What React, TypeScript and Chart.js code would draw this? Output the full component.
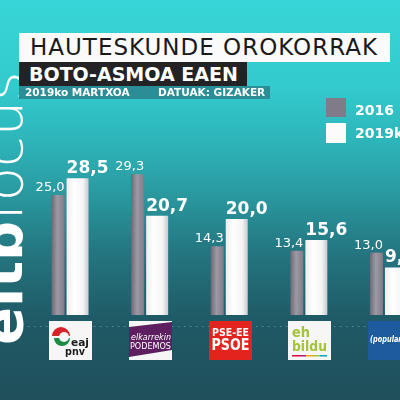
import React, { useEffect, useRef } from "react";
import { Chart, registerables } from "chart.js";

Chart.register(...registerables);

// ---- data ----
const categories = ["EAJ-PNV", "Elkarrekin Podemos", "PSE-EE PSOE", "EH Bildu", "PP"];
const seriesLabels = ["2016", "2019ko"];
const values2016 = [25.0, 29.3, 14.3, 13.4, 13.0];
const values2019 = [28.5, 20.7, 20.0, 15.6, 9.9];
const titleText = "HAUTESKUNDE OROKORRAK";
const subtitleText = "BOTO-ASMOA EAEN";
const dateText = "2019ko MARTXOA";
const sourceText = "DATUAK: GIZAKER";

const FONT = "'DejaVu Sans', sans-serif";
const CAT_PCT = 0.49;
const BAR_PCT = [0.667, 1.128];

const fmt = (v: number) => v.toFixed(1).replace(".", ",");

function barGeom(chart: any, dsIndex: number, index: number) {
  const xs = chart.scales.x;
  const c = xs.getPixelForValue(index);
  const cat = xs.width / categories.length;
  const chunk = (cat * CAT_PCT) / 2;
  const center = dsIndex === 0 ? c - chunk / 2 : c + chunk / 2;
  const w = chunk * BAR_PCT[dsIndex];
  return { left: center - w / 2, right: center + w / 2 };
}

const fill = (dsIndex: number) => (ctx: any) => {
  const chart = ctx.chart;
  const fallback = dsIndex === 0 ? "#8a8793" : "#f7f7f7";
  if (!chart.chartArea || !chart.scales || !chart.scales.x || ctx.type !== "data") return fallback;
  const { left, right } = barGeom(chart, dsIndex, ctx.dataIndex);
  const g = chart.ctx.createLinearGradient(left, 0, right, 0);
  if (dsIndex === 0) {
    g.addColorStop(0, "#6c6874");
    g.addColorStop(0.45, "#9d99a5");
    g.addColorStop(1, "#7e7a86");
  } else {
    g.addColorStop(0, "#ededee");
    g.addColorStop(0.35, "#ffffff");
    g.addColorStop(0.75, "#f4f4f5");
    g.addColorStop(1, "#c9c9cd");
  }
  return g;
};

function drawLogo(c: CanvasRenderingContext2D, i: number, x0: number, y0: number, w: number, h: number) {
  c.save();
  c.textAlign = "left";
  c.textBaseline = "alphabetic";
  if (i === 0) {
    c.fillStyle = "#f6f6f6";
    c.fillRect(x0, y0, w, h);
    const cx = x0 + 12, cy = y0 + 15;
    c.fillStyle = "#d8232a";
    c.beginPath(); c.arc(cx, cy, 9, Math.PI, 2 * Math.PI); c.fill();
    c.fillStyle = "#1e8b45";
    c.beginPath(); c.arc(cx + 1, cy + 2, 8, 0, Math.PI); c.fill();
    c.fillStyle = "#f6f6f6";
    c.beginPath(); c.arc(cx + 3, cy + 1, 5, 0, 2 * Math.PI); c.fill();
    c.fillStyle = "#1c1c1c";
    c.font = `bold 11px ${FONT}`;
    c.fillText("eaj", x0 + 22, y0 + 25, 18);
    c.fillText("pnv", x0 + 16, y0 + 34, 20);
  } else if (i === 1) {
    c.fillStyle = "#f6f6f6";
    c.fillRect(x0, y0, w, h);
    c.fillStyle = "#5d1f5f";
    c.beginPath();
    c.moveTo(x0, y0 + 6); c.lineTo(x0 + w, y0 + 1); c.lineTo(x0 + w, y0 + 29); c.lineTo(x0, y0 + 36);
    c.closePath(); c.fill();
    c.fillStyle = "#ffffff";
    c.font = `italic 9px ${FONT}`;
    c.fillText("elkarrekin", x0 + 2, y0 + 19, w - 3);
    c.font = `9px ${FONT}`;
    c.fillText("PODEMOS", x0 + 1, y0 + 28, w - 2);
  } else if (i === 2) {
    c.fillStyle = "#e2231e";
    c.fillRect(x0, y0, w, h);
    c.fillStyle = "#ffffff";
    c.textAlign = "center";
    c.font = `bold 11px ${FONT}`;
    c.fillText("PSE-EE", x0 + w / 2, y0 + 15, 37);
    c.font = `bold 16px ${FONT}`;
    c.fillText("PSOE", x0 + w / 2, y0 + 29, 38);
  } else if (i === 3) {
    c.fillStyle = "#f6f6f6";
    c.fillRect(x0, y0, w, h);
    c.fillStyle = "#a3c43a";
    c.font = `bold 14px ${FONT}`;
    c.fillText("eh", x0 + 4, y0 + 16, 18);
    c.fillText("bildu", x0 + 4, y0 + 30, 35);
    const cols = ["#e4003b", "#b0197e", "#f5a800", "#a3c43a", "#00a4c7"];
    cols.forEach((col, k) => {
      c.fillStyle = col;
      c.fillRect(x0 + 4 + k * 7, y0 + 34, 7, 1.5);
    });
  } else {
    c.fillStyle = "#1d5b9e";
    c.fillRect(x0, y0, w, h);
    c.fillStyle = "#ffffff";
    c.font = `italic bold 8px ${FONT}`;
    c.fillText("(populares", x0 + 2, y0 + 21, 40);
  }
  c.restore();
}

const decorPlugin = {
  id: "decor",
  beforeDatasetsDraw(chart: any) {
    const c = chart.ctx;
    c.save();
    c.strokeStyle = "rgba(255,255,255,0.28)";
    c.lineWidth = 1;
    c.setLineDash([1.5, 4.5]);
    c.beginPath();
    c.moveTo(0, 326.5);
    c.lineTo(chart.width, 326.5);
    c.stroke();
    c.restore();
  },
  afterDatasetsDraw(chart: any) {
    const c = chart.ctx;
    c.save();
    chart.data.datasets.forEach((ds: any, di: number) => {
      const meta = chart.getDatasetMeta(di);
      meta.data.forEach((el: any, i: number) => {
        const v = ds.data[i];
        const half = el.width / 2;
        c.fillStyle = "#ffffff";
        c.textBaseline = "alphabetic";
        if (di === 0) {
          c.font = `13px ${FONT}`;
          c.textAlign = "right";
          c.fillText(fmt(v), el.x + half, el.y - 4);
        } else {
          c.font = `bold 17px ${FONT}`;
          c.textAlign = "left";
          c.fillText(fmt(v), el.x - half, el.y - 5);
        }
      });
    });
    const xs = chart.scales.x;
    categories.forEach((_, i) => {
      const cx = xs.getPixelForValue(i) + 3;
      drawLogo(c, i, Math.round(cx - 21.5), 321, 43, 39);
    });
    c.restore();
  },
};

export default function App() {
  const ref = useRef<HTMLCanvasElement | null>(null);

  useEffect(() => {
    if (!ref.current) return;
    const chart = new Chart(ref.current, {
      type: "bar",
      data: {
        labels: categories,
        datasets: [
          {
            label: seriesLabels[0],
            data: values2016,
            backgroundColor: fill(0),
            barPercentage: BAR_PCT[0],
            categoryPercentage: CAT_PCT,
            borderWidth: 0,
          },
          {
            label: seriesLabels[1],
            data: values2019,
            backgroundColor: fill(1),
            barPercentage: BAR_PCT[1],
            categoryPercentage: CAT_PCT,
            borderWidth: 0,
          },
        ],
      },
      options: {
        responsive: false,
        maintainAspectRatio: false,
        animation: false,
        devicePixelRatio: 1,
        layout: { padding: { left: 0, right: 2, top: 75, bottom: 85 } },
        scales: {
          x: { display: false, offset: true },
          y: { display: false, min: 0, max: 50 },
        },
        plugins: {
          legend: { display: false },
          tooltip: { enabled: false },
        },
      },
      plugins: [decorPlugin],
    });
    return () => chart.destroy();
  }, []);

  const legendColors = ["#7f7b89", "#fbfbfb"];

  return (
    <div
      style={{
        position: "fixed",
        left: 0,
        top: 0,
        width: 400,
        height: 400,
        overflow: "hidden",
        fontFamily: FONT,
        background:
          "linear-gradient(to bottom, #37d5d7 0%, #33cacd 22%, #2db5ba 35%, #2a9aa1 48%, #247680 63%, #1f5a66 80%, #1f4f5b 100%)",
      }}
    >
      {/* rotated channel logo */}
      <div
        style={{
          position: "absolute",
          left: -25,
          top: 345,
          transformOrigin: "0 0",
          transform: "rotate(-90deg)",
          whiteSpace: "nowrap",
          fontSize: 56,
          lineHeight: "56px",
          color: "#ffffff",
        }}
      >
        <span style={{ fontWeight: "bold" }}>eitb</span>
        <span style={{ fontWeight: 200 }}>focus</span>
      </div>

      <canvas
        ref={ref}
        width={400}
        height={400}
        style={{ position: "absolute", left: 28, top: 0, width: 400, height: 400 }}
      />

      {/* title blocks */}
      <div
        style={{
          position: "absolute",
          left: 19,
          top: 33,
          width: 371,
          height: 29,
          background: "#fafafa",
          color: "#1a1a1a",
          fontSize: 23,
          lineHeight: "29px",
          letterSpacing: 1,
          paddingLeft: 11,
          boxSizing: "border-box",
          whiteSpace: "nowrap",
        }}
      >
        {titleText}
      </div>
      <div
        style={{
          position: "absolute",
          left: 19,
          top: 62,
          width: 228,
          height: 24,
          background: "#232325",
          color: "#ffffff",
          fontSize: 19,
          fontWeight: "bold",
          lineHeight: "24px",
          paddingLeft: 10,
          boxSizing: "border-box",
          whiteSpace: "nowrap",
        }}
      >
        {subtitleText}
      </div>
      <div
        style={{
          position: "absolute",
          left: 19,
          top: 86,
          width: 251,
          height: 13,
          background: "#2b8d95",
          color: "#ffffff",
          fontSize: 10.5,
          fontWeight: "bold",
          lineHeight: "13px",
          whiteSpace: "nowrap",
        }}
      >
        <span style={{ position: "absolute", left: 6 }}>{dateText}</span>
        <span style={{ position: "absolute", left: 139 }}>{sourceText}</span>
      </div>

      {/* legend */}
      {seriesLabels.map((lab, i) => (
        <React.Fragment key={lab}>
          <div
            style={{
              position: "absolute",
              left: 326,
              top: i === 0 ? 98 : 123,
              width: 20,
              height: i === 0 ? 19 : 20,
              background: legendColors[i],
            }}
          />
          <div
            style={{
              position: "absolute",
              left: 355,
              top: i === 0 ? 103 : 126,
              fontSize: 14,
              lineHeight: "14px",
              fontWeight: "bold",
              color: "#ffffff",
              whiteSpace: "nowrap",
            }}
          >
            {lab}
          </div>
        </React.Fragment>
      ))}
    </div>
  );
}
